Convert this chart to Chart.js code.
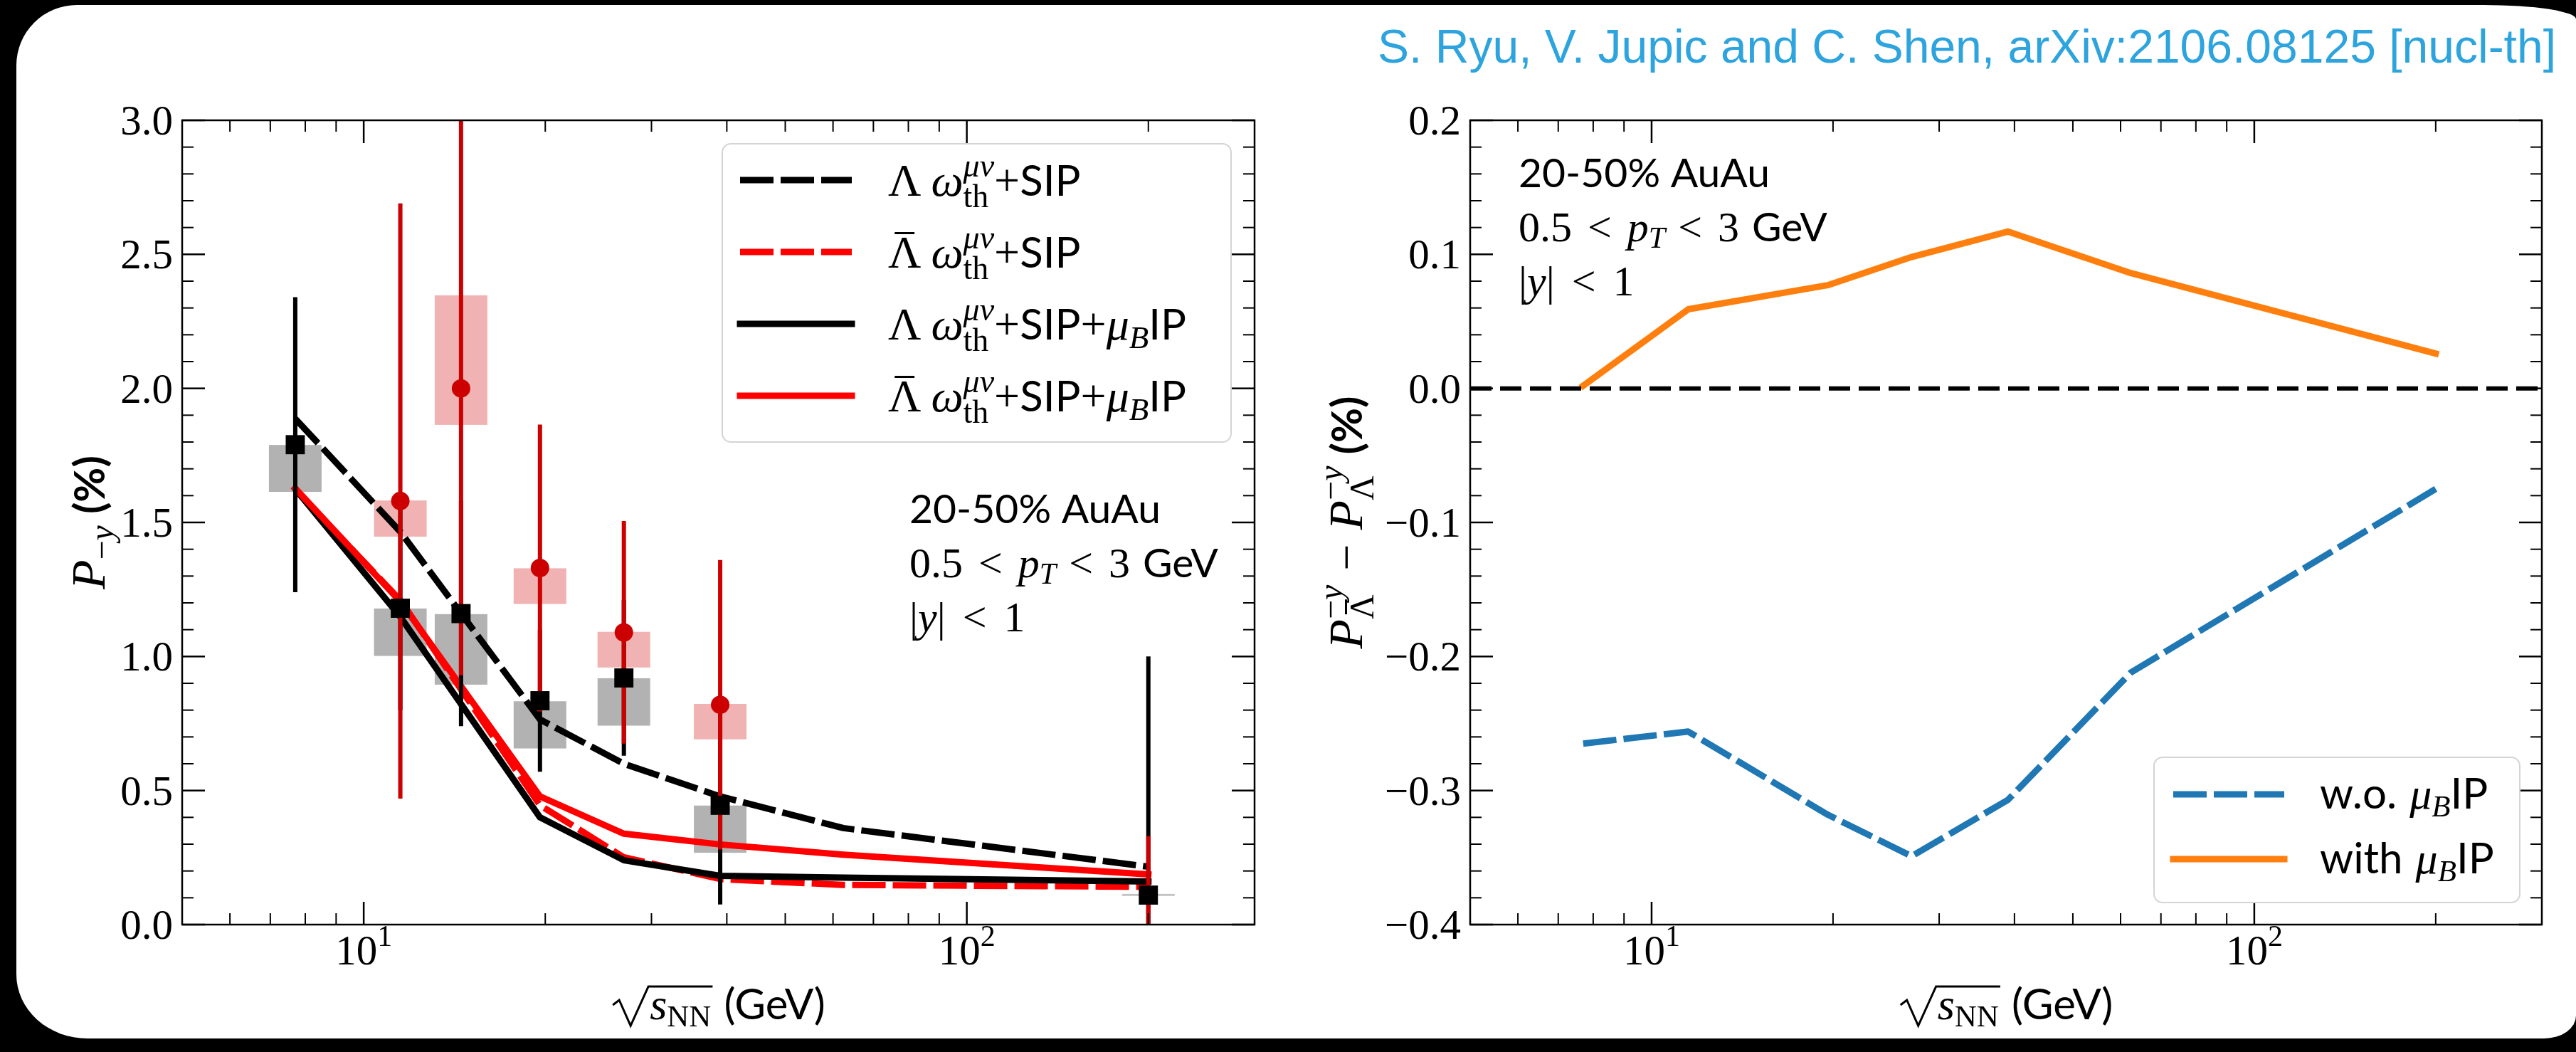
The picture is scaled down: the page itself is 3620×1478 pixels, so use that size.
<!DOCTYPE html>
<html>
<head>
<meta charset="utf-8">
<script src="https://cdn.jsdelivr.net/npm/chart.js@4.4.1/dist/chart.umd.min.js"></script>
<style>
  html, body { margin: 0; padding: 0; background: #000; width: 3620px; height: 1478px; overflow: hidden; }
  #card { position: absolute; left: 23px; top: 7px; width: 3597px; height: 1452px; background: #fff;
          border-radius: 85px 130px 45px 100px / 85px 20px 32px 90px; }
  #cite { position: absolute; right: 28px; top: 32px; font: 66px "Liberation Sans", Arial, sans-serif;
          line-height: 66px; color: #2ea4de; white-space: nowrap; }
  canvas { position: absolute; top: 0; }
  #left { left: 0; }
  #right { left: 1810px; }
</style>
</head>
<body>
<div id="card"></div>
<div id="cite">S. Ryu, V. Jupic and C. Shen, arXiv:2106.08125 [nucl-th]</div>
<canvas id="left" width="1810" height="1478"></canvas>
<canvas id="right" width="1810" height="1478"></canvas>
<script>
// collision energies of the hydro calculation (GeV)
const sqrtSModel = [7.7, 11.5, 19.6, 27, 39, 62.4, 200];
// global polarization P_-y (%) from the model
const lamSIP     = [1.887, 1.465, 0.765, 0.600, 0.478, 0.360, 0.216];
const alamSIP    = [1.622, 1.210, 0.445, 0.251, 0.170, 0.148, 0.141];
const lamSIPmuB  = [1.625, 1.148, 0.400, 0.240, 0.182, 0.175, 0.161];
const alamSIPmuB = [1.627, 1.205, 0.478, 0.339, 0.299, 0.261, 0.187];
// splitting P(anti-Lambda) - P(Lambda) (%)
const splitNoMuB   = [-0.265, -0.256, -0.318, -0.349, -0.307, -0.212, -0.075];
const splitWithMuB = [0.002, 0.059, 0.077, 0.098, 0.117, 0.086, 0.026];

// STAR Lambda
const sqrtSLam  = [7.7, 11.5, 14.5, 19.6, 27, 39, 200];
const lamP      = [1.79, 1.18, 1.16, 0.835, 0.92, 0.445, 0.11];
const lamStat   = [0.55, 0.38, 0.42, 0.265, 0.29, 0.37, 0.89];
const lamSysLo  = [1.614, 1.002, 0.895, 0.657, 0.742, 0.268, 0.108];
const lamSysHi  = [1.789, 1.179, 1.158, 0.833, 0.919, 0.444, 0.112];
// STAR anti-Lambda
const sqrtSAlam = [11.5, 14.5, 19.6, 27, 39, 200];
const alamP     = [1.58, 2.0, 1.33, 1.09, 0.82, 0.11];
const alamStat  = [1.11, 1.07, 0.535, 0.415, 0.54, 0.22];
const alamSysLo = [1.447, 1.864, 1.196, 0.959, 0.691, 0.11];
const alamSysHi = [1.582, 2.347, 1.329, 1.092, 0.823, 0.11];

// axis ticks
const xMajorTicks = [10, 100];
const xMinorTicks = [6, 7, 8, 9, 20, 30, 40, 50, 60, 70, 80, 90, 200, 300];
const yTicksLeft  = [0, 0.5, 1.0, 1.5, 2.0, 2.5, 3.0];
const yTicksRight = [-0.4, -0.3, -0.2, -0.1, 0, 0.1, 0.2];

const SERIF = '"Liberation Serif", "Times New Roman", serif';
const SANS = 'Lato, "Open Sans", sans-serif';
const rm = s => `${s}px ${SERIF}`;
const it = s => `italic ${s}px ${SERIF}`;
const sf = s => `${s}px ${SANS}`;
const sfb = s => `bold ${s}px ${SANS}`;

const pts = (xs, ys) => xs.map((x, i) => ({ x, y: ys[i] }));

// ---- small rich-text helper (runs with sub/superscripts) ----
function runWidth(ctx, r) {
  if (Array.isArray(r)) return r.reduce((s, q) => s + runWidth(ctx, q), 0);
  if (r.gap !== undefined) return r.gap;
  if (r.sup) return Math.max(runWidth(ctx, r.sup), runWidth(ctx, r.sub));
  ctx.font = r.f;
  return ctx.measureText(r.t).width;
}
function drawRun(ctx, r, x, y) {
  if (Array.isArray(r)) {
    let cx = x;
    for (const q of r) { drawRun(ctx, q, cx, y); cx += runWidth(ctx, q); }
    return;
  }
  if (r.gap !== undefined) return;
  if (r.sup) { drawRun(ctx, r.sup, x, y); drawRun(ctx, r.sub, x, y); return; }
  ctx.font = r.f;
  const by = y + (r.dy || 0);
  ctx.fillText(r.t, x, by);
  if (r.bar) {
    const w = ctx.measureText(r.t).width;
    ctx.fillRect(x + w * 0.2, by - r.bar, w * 0.6, 3);
  }
}
function drawRich(ctx, runs, x, y, align) {
  const w = runWidth(ctx, runs);
  const x0 = align === 'center' ? x - w / 2 : align === 'right' ? x - w : x;
  ctx.textAlign = 'left';
  ctx.textBaseline = 'alphabetic';
  drawRun(ctx, runs, x0, y);
}

// legend labels
const omegaTh = [{ t: 'ω', f: it(64) },
  { sup: [{ t: 'μν', f: it(46), dy: -27 }], sub: [{ t: 'th', f: rm(46), dy: 16 }] }];
const lam = { t: 'Λ', f: rm(64) };
const alam = { t: 'Λ', f: rm(64), bar: 50 };
const plusSIP = [{ t: '+', f: rm(64) }, { t: 'SIP', f: sf(60) }];
const plusMuB = [{ t: '+', f: rm(64) }, { t: 'μ', f: it(64) }, { t: 'B', f: it(45), dy: 12 }, { t: 'IP', f: sf(60) }];
const muBIP = [{ t: 'μ', f: it(62) }, { t: 'B', f: it(43), dy: 11 }, { t: 'IP', f: sf(60) }];

// cut labels
const cutRows = [
  [{ t: '20-50% AuAu', f: sf(57) }],
  [{ t: '0.5', f: rm(60) }, { gap: 22 }, { t: '<', f: rm(60) }, { gap: 22 }, { t: 'p', f: it(60) },
   { t: 'T', f: it(42), dy: 9 }, { gap: 18 }, { t: '<', f: rm(60) }, { gap: 22 }, { t: '3', f: rm(60) },
   { gap: 18 }, { t: 'GeV', f: sf(57) }],
  [{ t: '|', f: rm(60) }, { t: 'y', f: it(60) }, { t: '|', f: rm(60) }, { gap: 24 }, { t: '<', f: rm(60) },
   { gap: 24 }, { t: '1', f: rm(60) }]
];

const fmt = v => (Math.abs(v) < 1e-9 ? 0 : v).toFixed(1).replace('-', '−');

function drawEnergyTitle(ctx, cx, base) {
  const body = [{ t: 's', f: it(62) }, { t: 'NN', f: rm(43), dy: 10 }];
  const tail = [{ gap: 18 }, { t: '(GeV)', f: sf(60) }];
  const rad = 50;
  const bw = runWidth(ctx, body), tw = runWidth(ctx, tail);
  const x = cx - (rad + bw + tw) / 2;
  ctx.lineWidth = 3;
  ctx.lineJoin = 'miter';
  ctx.beginPath();
  ctx.moveTo(x, base - 20);
  ctx.lineTo(x + 9, base - 27);
  ctx.lineTo(x + 25, base + 9);
  ctx.lineTo(x + rad, base - 46);
  ctx.lineTo(x + rad + bw + 4, base - 46);
  ctx.stroke();
  drawRun(ctx, body, x + rad + 2, base);
  drawRun(ctx, tail, x + rad + bw + 2, base);
}

function drawLegend(chart, lg) {
  const ctx = chart.ctx;
  ctx.save();
  ctx.beginPath();
  ctx.roundRect(lg.x, lg.y, lg.w, lg.h, 12);
  ctx.fillStyle = 'rgba(255,255,255,0.8)';
  ctx.fill();
  ctx.lineWidth = 2;
  ctx.strokeStyle = '#d4d4d4';
  ctx.stroke();
  lg.items.forEach((item, i) => {
    const ds = chart.data.datasets[item.ds];
    const yy = lg.rowY + i * lg.rowStep;
    ctx.save();
    ctx.beginPath();
    ctx.rect(lg.hx0 - 10, yy - 20, lg.hx1 - lg.hx0 + 20, 40);
    ctx.clip();
    ctx.strokeStyle = ds.borderColor;
    ctx.lineWidth = ds.borderWidth;
    ctx.setLineDash(ds.borderDash || []);
    ctx.lineCap = ds.borderDash ? 'butt' : 'square';
    ctx.beginPath();
    ctx.moveTo(lg.hx0, yy);
    ctx.lineTo(lg.hx1, yy);
    ctx.stroke();
    ctx.restore();
    ctx.fillStyle = '#000';
    drawRich(ctx, item.runs, lg.textX, yy + lg.baseOff, 'left');
  });
  ctx.restore();
}

// frame, inward ticks, tick labels, titles, annotations and legend
function framePlugin(cfg) {
  return {
    id: 'frame',
    afterDraw(chart) {
      const { ctx, chartArea: a, scales: { x, y } } = chart;
      ctx.save();
      ctx.strokeStyle = '#000';
      ctx.fillStyle = '#000';
      ctx.lineCap = 'butt';
      const seg = (x0, y0, x1, y1, w) => {
        ctx.lineWidth = w; ctx.beginPath(); ctx.moveTo(x0, y0); ctx.lineTo(x1, y1); ctx.stroke();
      };
      xMinorTicks.forEach(v => {
        const p = x.getPixelForValue(v);
        seg(p, a.bottom, p, a.bottom - 16, 2);
        seg(p, a.top, p, a.top + 16, 2);
      });
      xMajorTicks.forEach(v => {
        const p = x.getPixelForValue(v);
        seg(p, a.bottom, p, a.bottom - 32, 2.5);
        seg(p, a.top, p, a.top + 32, 2.5);
      });
      const yt = cfg.yTicks;
      const minor = (yt[1] - yt[0]) / 5;
      const n = Math.round((yt[yt.length - 1] - yt[0]) / minor);
      for (let i = 0; i <= n; i++) {
        const p = y.getPixelForValue(yt[0] + i * minor);
        const len = i % 5 === 0 ? 32 : 16;
        const w = i % 5 === 0 ? 2.5 : 2;
        seg(a.left, p, a.left + len, p, w);
        seg(a.right, p, a.right - len, p, w);
      }
      ctx.lineWidth = 2.5;
      ctx.strokeRect(a.left, a.top, a.right - a.left, a.bottom - a.top);

      // tick labels
      ctx.font = rm(59);
      ctx.textAlign = 'right';
      ctx.textBaseline = 'alphabetic';
      yt.forEach(v => ctx.fillText(fmt(v), a.left - 13, y.getPixelForValue(v) + 20));
      xMajorTicks.forEach(v => {
        drawRich(ctx, [{ t: '10', f: rm(59) }, { t: String(Math.round(Math.log10(v))), f: rm(42), dy: -26 }],
          x.getPixelForValue(v), a.bottom + 56, 'center');
      });

      // axis titles
      drawEnergyTitle(ctx, (a.left + a.right) / 2, 1432);
      ctx.save();
      ctx.translate(cfg.yTitleX, (a.top + a.bottom) / 2);
      ctx.rotate(-Math.PI / 2);
      drawRich(ctx, cfg.yTitle, 0, 0, 'center');
      ctx.restore();

      // cuts
      cutRows.forEach((row, i) => drawRich(ctx, row, cfg.cutX, cfg.cutY + i * 76, 'left'));
      ctx.restore();
      drawLegend(chart, cfg.legend);
    }
  };
}

// STAR systematic boxes and statistical bars
const starPlugin = {
  id: 'star',
  beforeDatasetsDraw(chart) {
    const { ctx, chartArea: a, scales: { x, y } } = chart;
    ctx.save();
    ctx.beginPath(); ctx.rect(a.left, a.top, a.right - a.left, a.bottom - a.top); ctx.clip();
    const boxes = (xs, lo, hi, color) => xs.forEach((e, i) => {
      const px = x.getPixelForValue(e);
      const y0 = y.getPixelForValue(hi[i]), y1 = y.getPixelForValue(lo[i]);
      ctx.fillStyle = color;
      ctx.fillRect(px - 37, y0, 74, Math.max(y1 - y0, 0));
      if (y1 - y0 < 3 && y1 - y0 > 0) { ctx.fillStyle = 'rgba(0,0,0,0.15)'; ctx.fillRect(px - 37, y0 - 1, 74, 2); }
    });
    boxes(sqrtSLam, lamSysLo, lamSysHi, 'rgba(0,0,0,0.3)');
    boxes(sqrtSAlam, alamSysLo, alamSysHi, 'rgba(204,0,0,0.3)');
    ctx.restore();
  },
  beforeDatasetDraw(chart, args) {
    if (chart.data.datasets[args.index].label !== 'STAR anti-Lambda') return;
    const { ctx, chartArea: a, scales: { x, y } } = chart;
    ctx.save();
    ctx.beginPath(); ctx.rect(a.left, a.top, a.right - a.left, a.bottom - a.top); ctx.clip();
    const bars = (xs, vals, errs, color) => xs.forEach((e, i) => {
      const px = x.getPixelForValue(e);
      ctx.strokeStyle = color;
      ctx.lineWidth = 6;
      ctx.beginPath();
      ctx.moveTo(px, y.getPixelForValue(vals[i] + errs[i]));
      ctx.lineTo(px, y.getPixelForValue(vals[i] - errs[i]));
      ctx.stroke();
    });
    bars(sqrtSLam, lamP, lamStat, '#000');
    bars(sqrtSAlam, alamP, alamStat, '#cc0000');
    ctx.restore();
  }
};

const zeroLine = {
  id: 'zeroLine',
  afterDatasetsDraw(chart) {
    const { ctx, chartArea: a, scales: { y } } = chart;
    const p = y.getPixelForValue(0);
    ctx.save();
    ctx.strokeStyle = '#000';
    ctx.lineWidth = 6;
    ctx.setLineDash([30, 12]);
    ctx.beginPath(); ctx.moveTo(a.left, p); ctx.lineTo(a.right, p); ctx.stroke();
    ctx.restore();
  }
};

function lineSet(label, ys, color, dashed, order) {
  return {
    type: 'scatter', label, data: pts(sqrtSModel, ys), showLine: true,
    borderColor: color, backgroundColor: color, borderWidth: 9,
    borderDash: dashed ? [47, 10] : undefined,
    borderCapStyle: dashed ? 'butt' : 'square', borderJoinStyle: 'round',
    pointRadius: 0, order
  };
}

const baseOptions = (ymin, ymax, padRight) => ({
  responsive: false, animation: false, devicePixelRatio: 1,
  layout: { padding: { left: 256, top: 169, right: padRight, bottom: 179 } },
  plugins: { legend: { display: false }, tooltip: { enabled: false } },
  scales: {
    x: { type: 'logarithmic', min: 5, max: 300, display: false },
    y: { type: 'linear', min: ymin, max: ymax, display: false }
  }
});

new Chart(document.getElementById('left'), {
  type: 'scatter',
  data: {
    datasets: [
      lineSet('Λ ω+SIP', lamSIP, '#000', true, 5),
      lineSet('anti-Λ ω+SIP', alamSIP, '#ff0000', true, 4),
      lineSet('Λ ω+SIP+μBIP', lamSIPmuB, '#000', false, 3),
      lineSet('anti-Λ ω+SIP+μBIP', alamSIPmuB, '#ff0000', false, 2),
      { label: 'STAR anti-Lambda', data: pts(sqrtSAlam, alamP), pointStyle: 'circle', pointRadius: 13,
        backgroundColor: '#cc0000', borderWidth: 0, order: 1 },
      { label: 'STAR Lambda', data: pts(sqrtSLam, lamP), pointStyle: 'rect', pointRadius: 19,
        backgroundColor: '#000', borderWidth: 0, order: 0 }
    ]
  },
  options: baseOptions(0, 3, 47),
  plugins: [starPlugin, framePlugin({
    yTicks: yTicksLeft,
    yTitleX: 147,
    yTitle: [{ t: 'P', f: it(68) }, { t: '−', f: rm(48), dy: 12 }, { t: 'y', f: it(48), dy: 12 },
             { gap: 16 }, { t: '(%)', f: sfb(60) }],
    cutX: 1278, cutY: 735,
    legend: {
      x: 1015, y: 202, w: 715, h: 419, hx0: 1040, hx1: 1197, rowY: 253, rowStep: 101, textX: 1248, baseOff: 22,
      items: [
        { ds: 0, runs: [lam, { gap: 14 }, ...omegaTh, ...plusSIP] },
        { ds: 1, runs: [alam, { gap: 14 }, ...omegaTh, ...plusSIP] },
        { ds: 2, runs: [lam, { gap: 14 }, ...omegaTh, ...plusSIP, ...plusMuB] },
        { ds: 3, runs: [alam, { gap: 14 }, ...omegaTh, ...plusSIP, ...plusMuB] }
      ]
    }
  })]
});

const splitSup = [{ t: '−', f: rm(48), dy: -28 }, { t: 'y', f: it(48), dy: -28 }];
new Chart(document.getElementById('right'), {
  type: 'scatter',
  data: {
    datasets: [
      lineSet('w.o. μBIP', splitNoMuB, '#1f77b4', true, 1),
      lineSet('with μBIP', splitWithMuB, '#ff7f0e', false, 0)
    ]
  },
  options: baseOptions(-0.4, 0.2, 48),
  plugins: [zeroLine, framePlugin({
    yTicks: yTicksRight,
    yTitleX: 104,
    yTitle: [{ t: 'P', f: it(68) }, { sup: splitSup, sub: [{ t: 'Λ', f: rm(48), dy: 16, bar: 40 }] },
             { gap: 20 }, { t: '−', f: rm(66) }, { gap: 20 }, { t: 'P', f: it(68) },
             { sup: splitSup, sub: [{ t: 'Λ', f: rm(48), dy: 16 }] }, { gap: 16 }, { t: '(%)', f: sfb(60) }],
    cutX: 324, cutY: 263,
    legend: {
      x: 1217, y: 1064, w: 514, h: 204, hx0: 1244, hx1: 1400, rowY: 1116, rowStep: 91, textX: 1450, baseOff: 20,
      items: [
        { ds: 0, runs: [{ t: 'w.o.', f: sf(60) }, { gap: 18 }, ...muBIP] },
        { ds: 1, runs: [{ t: 'with', f: sf(60) }, { gap: 18 }, ...muBIP] }
      ]
    }
  })]
});
</script>
</body>
</html>
